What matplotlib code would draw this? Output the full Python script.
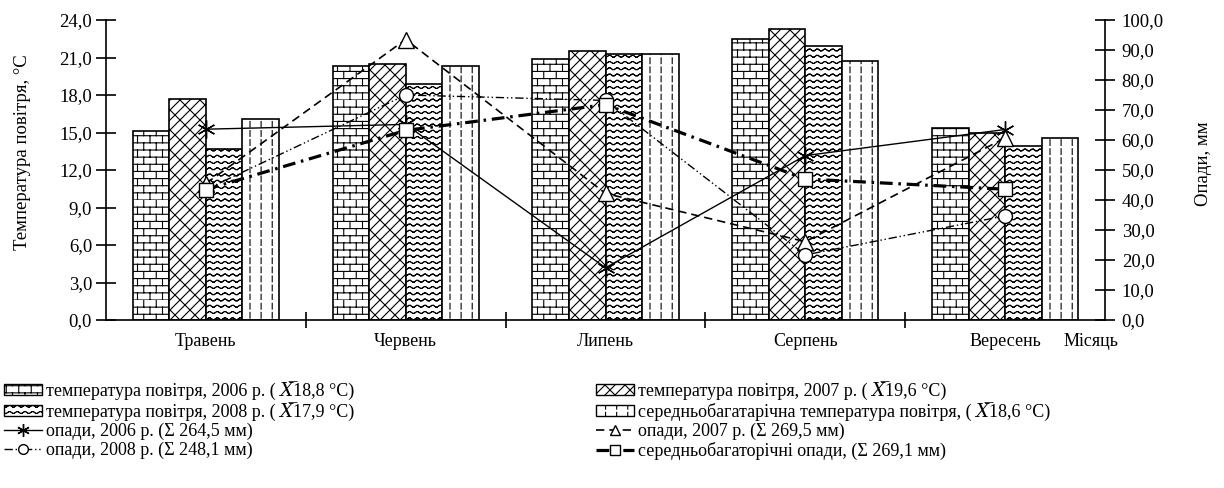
import numpy as np
import matplotlib
matplotlib.use('Agg')
import matplotlib.pyplot as plt
import matplotlib.hatch as mhatch
from matplotlib.path import Path
from matplotlib.patches import Patch
from matplotlib.lines import Line2D
from matplotlib.ticker import FixedLocator, FuncFormatter, NullFormatter

# --- data ---
months = ['Травень', 'Червень', 'Липень', 'Серпень', 'Вересень']

temp_2006 = [15.1, 20.3, 20.9, 22.5, 15.4]
temp_2007 = [17.7, 20.5, 21.5, 23.3, 15.0]
temp_2008 = [13.7, 18.9, 21.3, 21.9, 13.9]
temp_avg = [16.1, 20.3, 21.3, 20.7, 14.6]

prec_2006 = [63.6, 65.2, 17.4, 54.8, 63.5]
prec_2007 = [45.5, 93.5, 42.2, 26.1, 60.7]
prec_2008 = [43.5, 75.0, 73.2, 21.7, 34.7]
prec_avg = [43.5, 63.2, 71.8, 47.0, 43.6]

temp_ticks = [0, 3, 6, 9, 12, 15, 18, 21, 24]
prec_ticks = [0, 10, 20, 30, 40, 50, 60, 70, 80, 90, 100]

XBAR = '\U0001D44B\u0305'


# --- custom hatch patterns (brick, waves, diagonal brick, dashes) ---
def brick_segments(rows=14, cols=8):
    segs = []
    for i in range(rows):
        y0, y1 = i / rows, (i + 1) / rows
        segs.append([(0, y0), (1, y0)])
        shift = 0.5 * (i % 2)
        for j in range(cols + 1):
            x = (j + shift) / cols
            segs.append([(x, y0), (x, y1)])
    return np.array(segs, dtype=float)


def wave_segments(rows=16, periods=13, steps=6, amp=0.01):
    x = np.linspace(0, 1, periods * steps + 1)
    segs = []
    for i in range(rows + 1):
        y = i / rows + amp * np.sin(2 * np.pi * periods * x)
        pts = np.column_stack([x, y])
        segs.extend(np.stack([pts[:-1], pts[1:]], axis=1))
    return np.array(segs, dtype=float)


def diag_brick_segments(n=10, m=10):
    segs = []
    for k in range(-n, 2 * n):
        c = k / n
        segs.append([(c - 1, -1), (c + 1, 1)])
        for j in range(-m, 2 * m):
            t = (j + 0.5 * (k % 2)) / m
            x0 = t + c
            if -0.2 < x0 < 1.2 and -0.2 < t < 1.2:
                segs.append([(x0, t), (x0 + 0.5 / n, t - 0.5 / n)])
    return np.array(segs, dtype=float)


def dash_segments(cols=9, dashes=11, length=0.058):
    segs = []
    for i in range(cols):
        x = (i + 0.5) / cols
        for j in range(dashes):
            y0 = j / dashes
            segs.append([(x, y0), (x, y0 + length)])
    return np.array(segs, dtype=float)


class SegmentHatch(mhatch.HatchPatternBase):
    char = ''
    segs = np.empty((0, 2, 2))

    def __init__(self, hatch, density):
        self.num_vertices = 2 * len(self.segs) if self.char in hatch else 0

    def set_vertices_and_codes(self, vertices, codes):
        vertices[:] = self.segs.reshape(-1, 2)
        codes[0::2] = Path.MOVETO
        codes[1::2] = Path.LINETO


def make_hatch(char, segs):
    return type('Hatch_' + char, (SegmentHatch,), {'char': char, 'segs': segs})


mhatch._hatch_types.extend([
    make_hatch('b', brick_segments()),
    make_hatch('w', wave_segments()),
    make_hatch('z', diag_brick_segments()),
    make_hatch('d', dash_segments()),
])
mhatch._validate_hatch_pattern = lambda hatch: None

plt.rcParams['font.family'] = ['Liberation Serif', 'DejaVu Serif', 'STIXGeneral']
plt.rcParams['hatch.linewidth'] = 0.8


def comma(v, pos):
    return f'{v:.1f}'.replace('.', ',')


fig = plt.figure(figsize=(12.24, 4.88), dpi=100)
ax = fig.add_axes([106 / 1224, 1 - 320 / 488, 999 / 1224, 300 / 488])
ax2 = ax.twinx()

x = np.arange(len(months))
w = 0.183
bar_series = [
    (temp_2006, 'b', f'температура повітря, 2006 р. ( {XBAR}18,8 °C)'),
    (temp_2007, 'z', f'температура повітря, 2007 р. ( {XBAR}19,6 °C)'),
    (temp_2008, 'w', f'температура повітря, 2008 р. ( {XBAR}17,9 °C)'),
    (temp_avg, 'd', f'середньобагатарічна температура повітря, ( {XBAR}18,6 °C)'),
]
bar_handles = []
for i, (vals, hatch, label) in enumerate(bar_series):
    ax.bar(x + (i - 1.5) * w, vals, width=w, color='white',
           edgecolor='black', hatch=hatch, linewidth=1.2)
    bar_handles.append(Patch(facecolor='white', edgecolor='black',
                             hatch=hatch, linewidth=1.0, label=label))

line_series = [
    (prec_2006, dict(linestyle='-', lw=1.0, marker=(6, 2, 0), ms=13, mew=1.0),
     'опади, 2006 р. (Σ 264,5 мм)'),
    (prec_2007, dict(linestyle=(0, (5, 3)), lw=1.2, marker='^', ms=11, mew=1.0),
     'опади, 2007 р. (Σ 269,5 мм)'),
    (prec_2008, dict(linestyle=(0, (6, 2, 1, 2, 1, 2)), lw=1.0, marker='o', ms=10, mew=1.0),
     'опади, 2008 р. (Σ 248,1 мм)'),
    (prec_avg, dict(linestyle=(0, (4, 1.8, 0.8, 1.8)), lw=2.3, marker='s', ms=10, mew=1.0),
     'середньобагаторічні опади, (Σ 269,1 мм)'),
]
line_handles = []
for vals, style, label in line_series:
    ax2.plot(x, vals, color='black', markerfacecolor='white',
             markeredgecolor='black', **style)
    style = dict(style, ms=style['ms'] * 0.7)
    line_handles.append(Line2D([], [], color='black', markerfacecolor='white',
                               markeredgecolor='black', label=label, **style))

# left axis
ax.set_xlim(-0.5, len(months) - 0.5)
ax.set_ylim(0, 24)
ax.set_yticks(temp_ticks)
ax.yaxis.set_major_formatter(FuncFormatter(comma))
ax.set_xticks(x)
ax.set_xticklabels(months)
ax.xaxis.set_minor_locator(FixedLocator(x[:-1] + 0.5))
ax.xaxis.set_minor_formatter(NullFormatter())
ax.tick_params(axis='x', which='major', length=0, pad=9, labelsize=13)
ax.tick_params(axis='x', which='minor', direction='inout', length=12, width=1.2)
ax.tick_params(axis='y', direction='inout', length=14, width=1.2, pad=3, labelsize=13.5)
for side in ['top', 'right']:
    ax.spines[side].set_visible(False)
for side in ['left', 'bottom']:
    ax.spines[side].set_linewidth(1.2)
ax.set_ylabel('Температура повітря, °С', fontsize=13.5)
ax.yaxis.set_label_coords(-0.075, 0.56)
ax.text(4.29, -0.043, 'Місяць', transform=ax.get_xaxis_transform(),
        ha='left', va='top', fontsize=13)

# right axis
ax2.set_ylim(0, 100)
ax2.set_yticks(prec_ticks)
ax2.yaxis.set_major_formatter(FuncFormatter(comma))
ax2.tick_params(axis='y', direction='inout', length=14, width=1.2, pad=5, labelsize=13.5)
for side in ['top', 'left', 'bottom']:
    ax2.spines[side].set_visible(False)
ax2.spines['right'].set_linewidth(1.2)
ax2.set_ylabel('Опади, мм', fontsize=13.5)
ax2.yaxis.set_label_coords(1.09, 0.52)

legend_kw = dict(frameon=False, fontsize=13, handlelength=2.1, handleheight=0.55,
                 handletextpad=0.25, labelspacing=0.11, borderpad=0, borderaxespad=0)
fig.legend(handles=[bar_handles[0], bar_handles[2], line_handles[0], line_handles[2]],
           loc='upper left', bbox_to_anchor=(4 / 1224, 1 - 381 / 488), **legend_kw)
fig.legend(handles=[bar_handles[1], bar_handles[3], line_handles[1], line_handles[3]],
           loc='upper left', bbox_to_anchor=(596 / 1224, 1 - 381 / 488), **legend_kw)

fig.savefig('out.png', dpi=100)
